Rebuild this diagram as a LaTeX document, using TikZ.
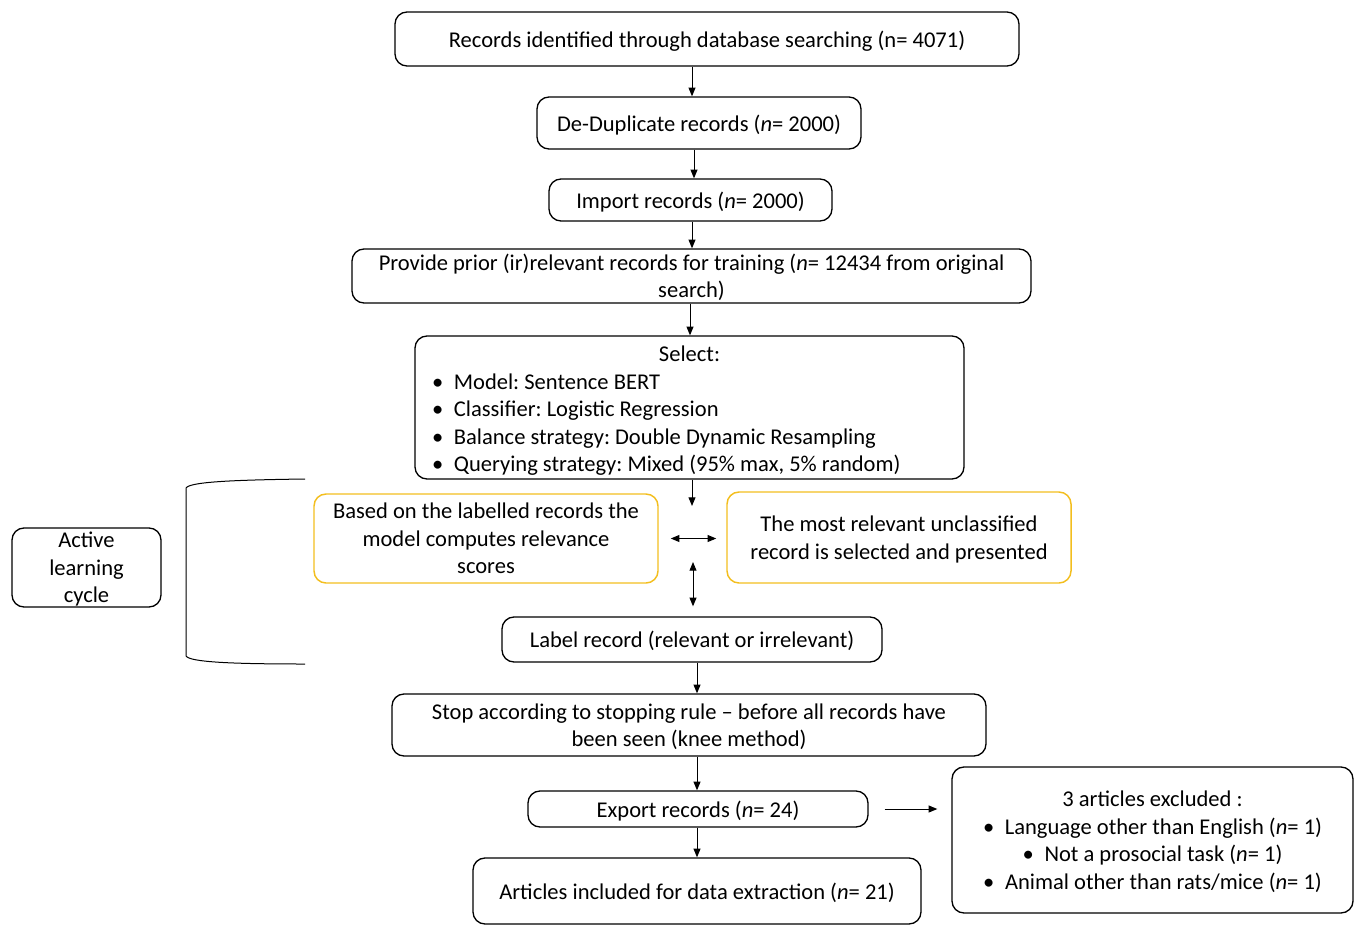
\documentclass[tikz,border=0pt]{standalone}
\usepackage{fontspec}
\setmainfont{Carlito}
\usetikzlibrary{arrows.meta}
\newdimen\px \px=0.75pt
\definecolor{cycleyellow}{RGB}{243,190,30}
\frenchspacing
\begin{document}
\begin{tikzpicture}[x=0.75pt, y=-0.75pt,
    box/.style={draw, rounded corners=9pt, line width=1pt, inner sep=0pt, align=center,
        font=\fontsize{16.9}{20.6}\selectfont, text depth=-4pt},
    cyclebox/.style={box, draw=cycleyellow, line width=1.1pt},
    flow/.style={-{Triangle[length=6.5pt,width=5.2pt]}, line width=0.75pt},
    both/.style={{Triangle[length=6.5pt,width=5.2pt]}-{Triangle[length=6.5pt,width=5.2pt]}, line width=0.75pt}]
    \useasboundingbox (0, 0) rectangle (1358, 924);

    \node[box, minimum width=624\px, minimum height=54\px] (records) at (707, 39)
        {Records identified through database searching (n= 4071)};
    \node[box, minimum width=324\px, minimum height=52\px] (dedup) at (699, 123)
        {De-Duplicate records (\textit{n}= 2000)};
    \node[box, minimum width=283\px, minimum height=42\px] (import) at (690.5, 200)
        {Import records (\textit{n}= 2000)};
    \node[box, minimum width=679\px, minimum height=54\px] (prior) at (691.5, 276)
        {Provide prior (ir)relevant records for training (\textit{n}= 12434 from original\\search)};
    \node[box, minimum width=549\px, minimum height=143\px, text width=515\px, align=flush left, text depth={},
        execute at begin node={\rule{0pt}{19pt}}, execute at end node={\rule[-5pt]{0pt}{0pt}}] (select) at (689.5, 407.5)
        {{\centering Select:\par}
         \textbullet\hspace{8pt}Model: Sentence BERT\par
         \textbullet\hspace{8pt}Classifier: Logistic Regression\par
         \textbullet\hspace{8pt}Balance strategy: Double Dynamic Resampling\par
         \textbullet\hspace{8pt}Querying strategy: Mixed (95\% max, 5\% random)};

    %%active learning cycle
    \node[cyclebox, minimum width=344\px, minimum height=89\px] (relevance) at (486, 538.5)
        {Based on the labelled records the\\model computes relevance\\scores};
    \node[cyclebox, minimum width=344\px, minimum height=91\px] (presented) at (899, 537.5)
        {The most relevant unclassified\\record is selected and presented};
    \node[box, minimum width=380\px, minimum height=45\px] (label) at (692, 639.5)
        {Label record (relevant or irrelevant)};
    \node[box, minimum width=149\px, minimum height=79\px] (active) at (86.5, 567.5)
        {Active\\learning\\cycle};
    \draw[line width=0.75pt] (305, 479) .. controls (230, 480) and (190, 482) .. (186, 488)
        -- (186, 656) .. controls (190, 662) and (230, 664) .. (305, 664);

    \node[box, minimum width=594\px, minimum height=62\px] (stop) at (689, 725)
        {Stop according to stopping rule -- before all records have\\been seen (knee method)};
    \node[box, minimum width=340\px, minimum height=36\px] (export) at (698, 809)
        {Export records (\textit{n}= 24)};
    \node[box, minimum width=401\px, minimum height=146\px] (excluded) at (1152.5, 840)
        {3 articles excluded :\\
         \textbullet\hspace{8pt}Language other than English (\textit{n}= 1)\\
         \textbullet\hspace{8pt}Not a prosocial task (\textit{n}= 1)\\
         \textbullet\hspace{8pt}Animal other than rats/mice (\textit{n}= 1)};
    \node[box, minimum width=448\px, minimum height=66\px] (articles) at (697, 891)
        {Articles included for data extraction (\textit{n}= 21)};

    %%arrows
    \coordinate (cycletop) at (692, 506);
    \coordinate (cyclemid) at (693, 562);
    \draw[flow] (records.south -| 692, 0) -- (dedup.north -| 692, 0);
    \draw[flow] (dedup.south -| 694, 0) -- (import.north -| 694, 0);
    \draw[flow] (import.south -| 692, 0) -- (prior.north -| 692, 0);
    \draw[flow] (prior.south -| 690, 0) -- (select.north -| 690, 0);
    \draw[flow] (select.south -| cycletop) -- (cycletop);
    \draw[both, shorten <=9pt, shorten >=7.5pt] (relevance.east) -- (presented.west |- relevance.east);
    \draw[both, shorten >=7.5pt] (cyclemid) -- (label.north -| cyclemid);
    \draw[flow] (label.south -| 697, 0) -- (stop.north -| 697, 0);
    \draw[flow] (stop.south -| 697, 0) -- (export.north -| 697, 0);
    \draw[flow, shorten <=12pt, shorten >=10.5pt] (export.east) -- (excluded.west |- export.east);
    \draw[flow] (export.south -| 697, 0) -- (articles.north -| 697, 0);
\end{tikzpicture}
\end{document}
